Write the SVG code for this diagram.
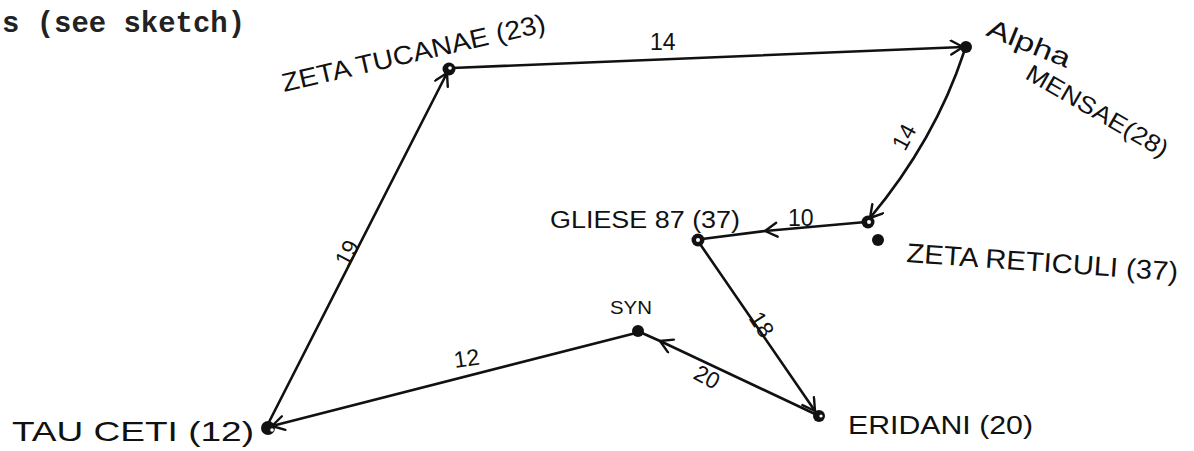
<svg xmlns="http://www.w3.org/2000/svg" width="1194" height="451" viewBox="0 0 1194 451">
<style>
.edge{fill:none;stroke:#111;stroke-width:2.6;stroke-linecap:round;stroke-linejoin:round}
.dot{fill:#111}
.hole{fill:#fff}
.lbl{font-family:"Liberation Sans","DejaVu Sans",sans-serif;fill:#111;font-weight:normal}
.num{font-family:"Liberation Sans","DejaVu Sans",sans-serif;fill:#111;font-size:23px}
.typed{font-family:"Liberation Mono","DejaVu Sans Mono",monospace;font-weight:bold;fill:#222;font-size:29px}
</style>
<defs>
<marker id="arr" markerWidth="18" markerHeight="18" refX="14" refY="8" orient="auto" markerUnits="userSpaceOnUse">
<path d="M2,1 L14,8 L2,15" fill="none" stroke="#111" stroke-width="2.4" stroke-linecap="round" stroke-linejoin="round"/>
</marker>
</defs>
<rect width="1194" height="451" fill="#fff"/>
<text class="typed" x="2" y="32" textLength="243" lengthAdjust="spacingAndGlyphs">s (see sketch)</text>

<g id="connectors">
<path class="edge" d="M452,68 L963,47" marker-end="url(#arr)"/>
<path class="edge" d="M964,52 Q935,140 870,218" marker-end="url(#arr)"/>
<path class="edge" d="M866,222 L765,231 L702,239" marker-mid="url(#arr)"/>
<path class="edge" d="M700,244 L815,411" marker-end="url(#arr)"/>
<path class="edge" d="M815,414 L660,341 L642,333" marker-mid="url(#arr)"/>
<path class="edge" d="M636,333 L272,426" marker-end="url(#arr)"/>
<path class="edge" d="M268,424 L447,73" marker-end="url(#arr)"/>
<text class="num" x="650" y="50">14</text>
<text class="num" transform="translate(905,152) rotate(-62)">14</text>
<text class="num" x="788" y="226">10</text>
<text class="num" transform="translate(748,318) rotate(57)">18</text>
<text class="num" transform="translate(692,378) rotate(28)">20</text>
<text class="num" transform="translate(455,368) rotate(-8)">12</text>
<text class="num" transform="translate(348,268) rotate(-62)">19</text>
</g>

<g id="zeta-tucanae">
<circle class="dot" cx="449" cy="69" r="6.5"/>
<circle class="hole" cx="450" cy="68" r="1.8"/>
<text class="lbl" font-size="26" transform="translate(284,92) rotate(-13)" textLength="270" lengthAdjust="spacingAndGlyphs">ZETA TUCANAE (23)</text>
</g>

<g id="alpha-mensae">
<circle class="dot" cx="966" cy="47" r="6"/>
<text class="lbl" font-size="26" transform="translate(985,35) rotate(22)" textLength="88" lengthAdjust="spacingAndGlyphs">Alpha</text>
<text class="lbl" font-size="24" transform="translate(1024,78) rotate(30)" textLength="160" lengthAdjust="spacingAndGlyphs">MENSAE(28)</text>
</g>

<g id="zeta-reticuli">
<circle class="dot" cx="868" cy="222" r="6.5"/>
<circle class="hole" cx="869" cy="222" r="2"/>
<circle class="dot" cx="878" cy="240" r="6"/>
<text class="lbl" font-size="27" transform="translate(906,262) rotate(4)" textLength="272" lengthAdjust="spacingAndGlyphs">ZETA RETICULI (37)</text>
</g>

<g id="gliese-87">
<circle class="dot" cx="698" cy="240" r="6.5"/>
<circle class="hole" cx="698" cy="240" r="2"/>
<text class="lbl" font-size="23" x="550" y="228" textLength="190" lengthAdjust="spacingAndGlyphs">GLIESE 87 (37)</text>
</g>

<g id="syn">
<circle class="dot" cx="638" cy="331" r="6"/>
<text class="lbl" font-size="18" x="610" y="314" textLength="42" lengthAdjust="spacingAndGlyphs">SYN</text>
</g>

<g id="eridani">
<circle class="dot" cx="819" cy="416" r="6"/>
<circle class="hole" cx="821" cy="416" r="1.6"/>
<text class="lbl" font-size="25" x="848" y="434" textLength="185" lengthAdjust="spacingAndGlyphs">ERIDANI (20)</text>
</g>

<g id="tau-ceti">
<circle class="dot" cx="268" cy="428" r="7"/>
<circle class="hole" cx="272" cy="430" r="1.8"/>
<text class="lbl" font-size="28" x="12" y="441" textLength="242" lengthAdjust="spacingAndGlyphs">TAU CETI (12)</text>
</g>
</svg>
